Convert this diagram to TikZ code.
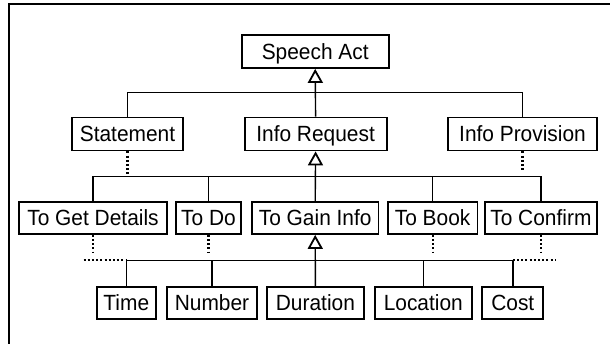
\documentclass[tikz,border=0pt]{standalone}
\usepackage{fontspec}
\setmainfont{Liberation Sans}[FakeStretch=0.95]
\usetikzlibrary{arrows.meta}
\begin{document}
\begin{tikzpicture}[x=1pt,y=-1pt,
  box/.style={draw, line width=1.8pt, inner sep=0pt, minimum height=33pt,
    font=\fontsize{22}{25}\selectfont, text height=15.8pt, text depth=0pt},
  row/.style={minimum height=32pt},
  link/.style={line width=1.4pt},
  dotline/.style={line width=2.2pt, dash pattern=on 2pt off 2.2pt},
  isa/.style={line width=1.4pt, -{Triangle[open, length=14pt, width=15pt, line width=1.8pt]}}]
\useasboundingbox (0,0) rectangle (610,344);
\draw[line width=2.4pt] (8.7,344) -- (8.7,4) -- (610,4);
% level 1
\node[box, minimum width=147pt] (sa) at (315.2,51.5) {Speech Act};
% level 2
\node[box, minimum width=111.3pt] (st) at (127.5,134) {Statement};
\node[box, minimum width=142pt] (ir) at (315.6,134) {Info Request};
\node[box, minimum width=149pt] (ip) at (522.5,134) {Info Provision};
% level 3
\node[box, row, minimum width=147.4pt] (gd) at (93,218) {To Get Details};
\node[box, row, minimum width=65pt] (td) at (208.5,218) {To Do};
\node[box, row, minimum width=126.6pt] (gi) at (315.2,218) {To Gain Info};
\node[box, row, minimum width=89.6pt] (tb) at (432.6,218) {To Book};
\node[box, row, minimum width=111.7pt] (tc) at (540.9,218) {To Confirm};
% level 4
\node[box, row, minimum width=59.3pt] (ti) at (126.3,303) {Time};
\node[box, row, minimum width=89.4pt] (nu) at (212,303) {Number};
\node[box, row, minimum width=97.6pt] (du) at (315.4,303) {Duration};
\node[box, row, minimum width=96.7pt] (lo) at (423.3,303) {Location};
\node[box, row, minimum width=61pt] (co) at (512.8,303) {Cost};
% bus levels
\coordinate (b1) at (0,92.7);
\coordinate (b2) at (0,176.3);
\coordinate (b3) at (0,260.3);
% level 1-2 connectors
\draw[link] (st.north) -- (st.north |- b1) -- (ip.north |- b1) -- (ip.north);
\draw[isa] (ir.north) -- (sa.south);
% level 2-3 connectors
\draw[link] (gd.north) -- (gd.north |- b2) -- (tc.north |- b2) -- (tc.north);
\draw[link] (td.north) -- (td.north |- b2);
\draw[link] (tb.north) -- (tb.north |- b2);
\draw[isa] (gi.north) -- (ir.south);
\coordinate (ipd) at (522.5,171);
\draw[dotline] (st.south) -- (st.south |- b2);
\draw[dotline] (ip.south) -- (ipd);
% level 3-4 connectors
\draw[link] (ti.north) -- (ti.north |- b3) -- (co.north |- b3) -- (co.north);
\draw[link] (nu.north) -- (nu.north |- b3);
\draw[link] (lo.north) -- (lo.north |- b3);
\draw[isa] (du.north) -- (gi.south);
\coordinate (d3) at (0,252.5);
\draw[dotline] (gd.south) -- (gd.south |- d3);
\draw[dotline] (td.south) -- (td.south |- d3);
\draw[dotline] (tb.south) -- (tb.south |- d3);
\draw[dotline] (tc.south) -- (tc.south |- d3);
\coordinate (dl) at (83.5,260.3);
\coordinate (dr) at (555,260.3);
\draw[dotline] (dl) -- (ti.north |- b3);
\draw[dotline] (co.north |- b3) -- (dr);
\end{tikzpicture}
\end{document}
